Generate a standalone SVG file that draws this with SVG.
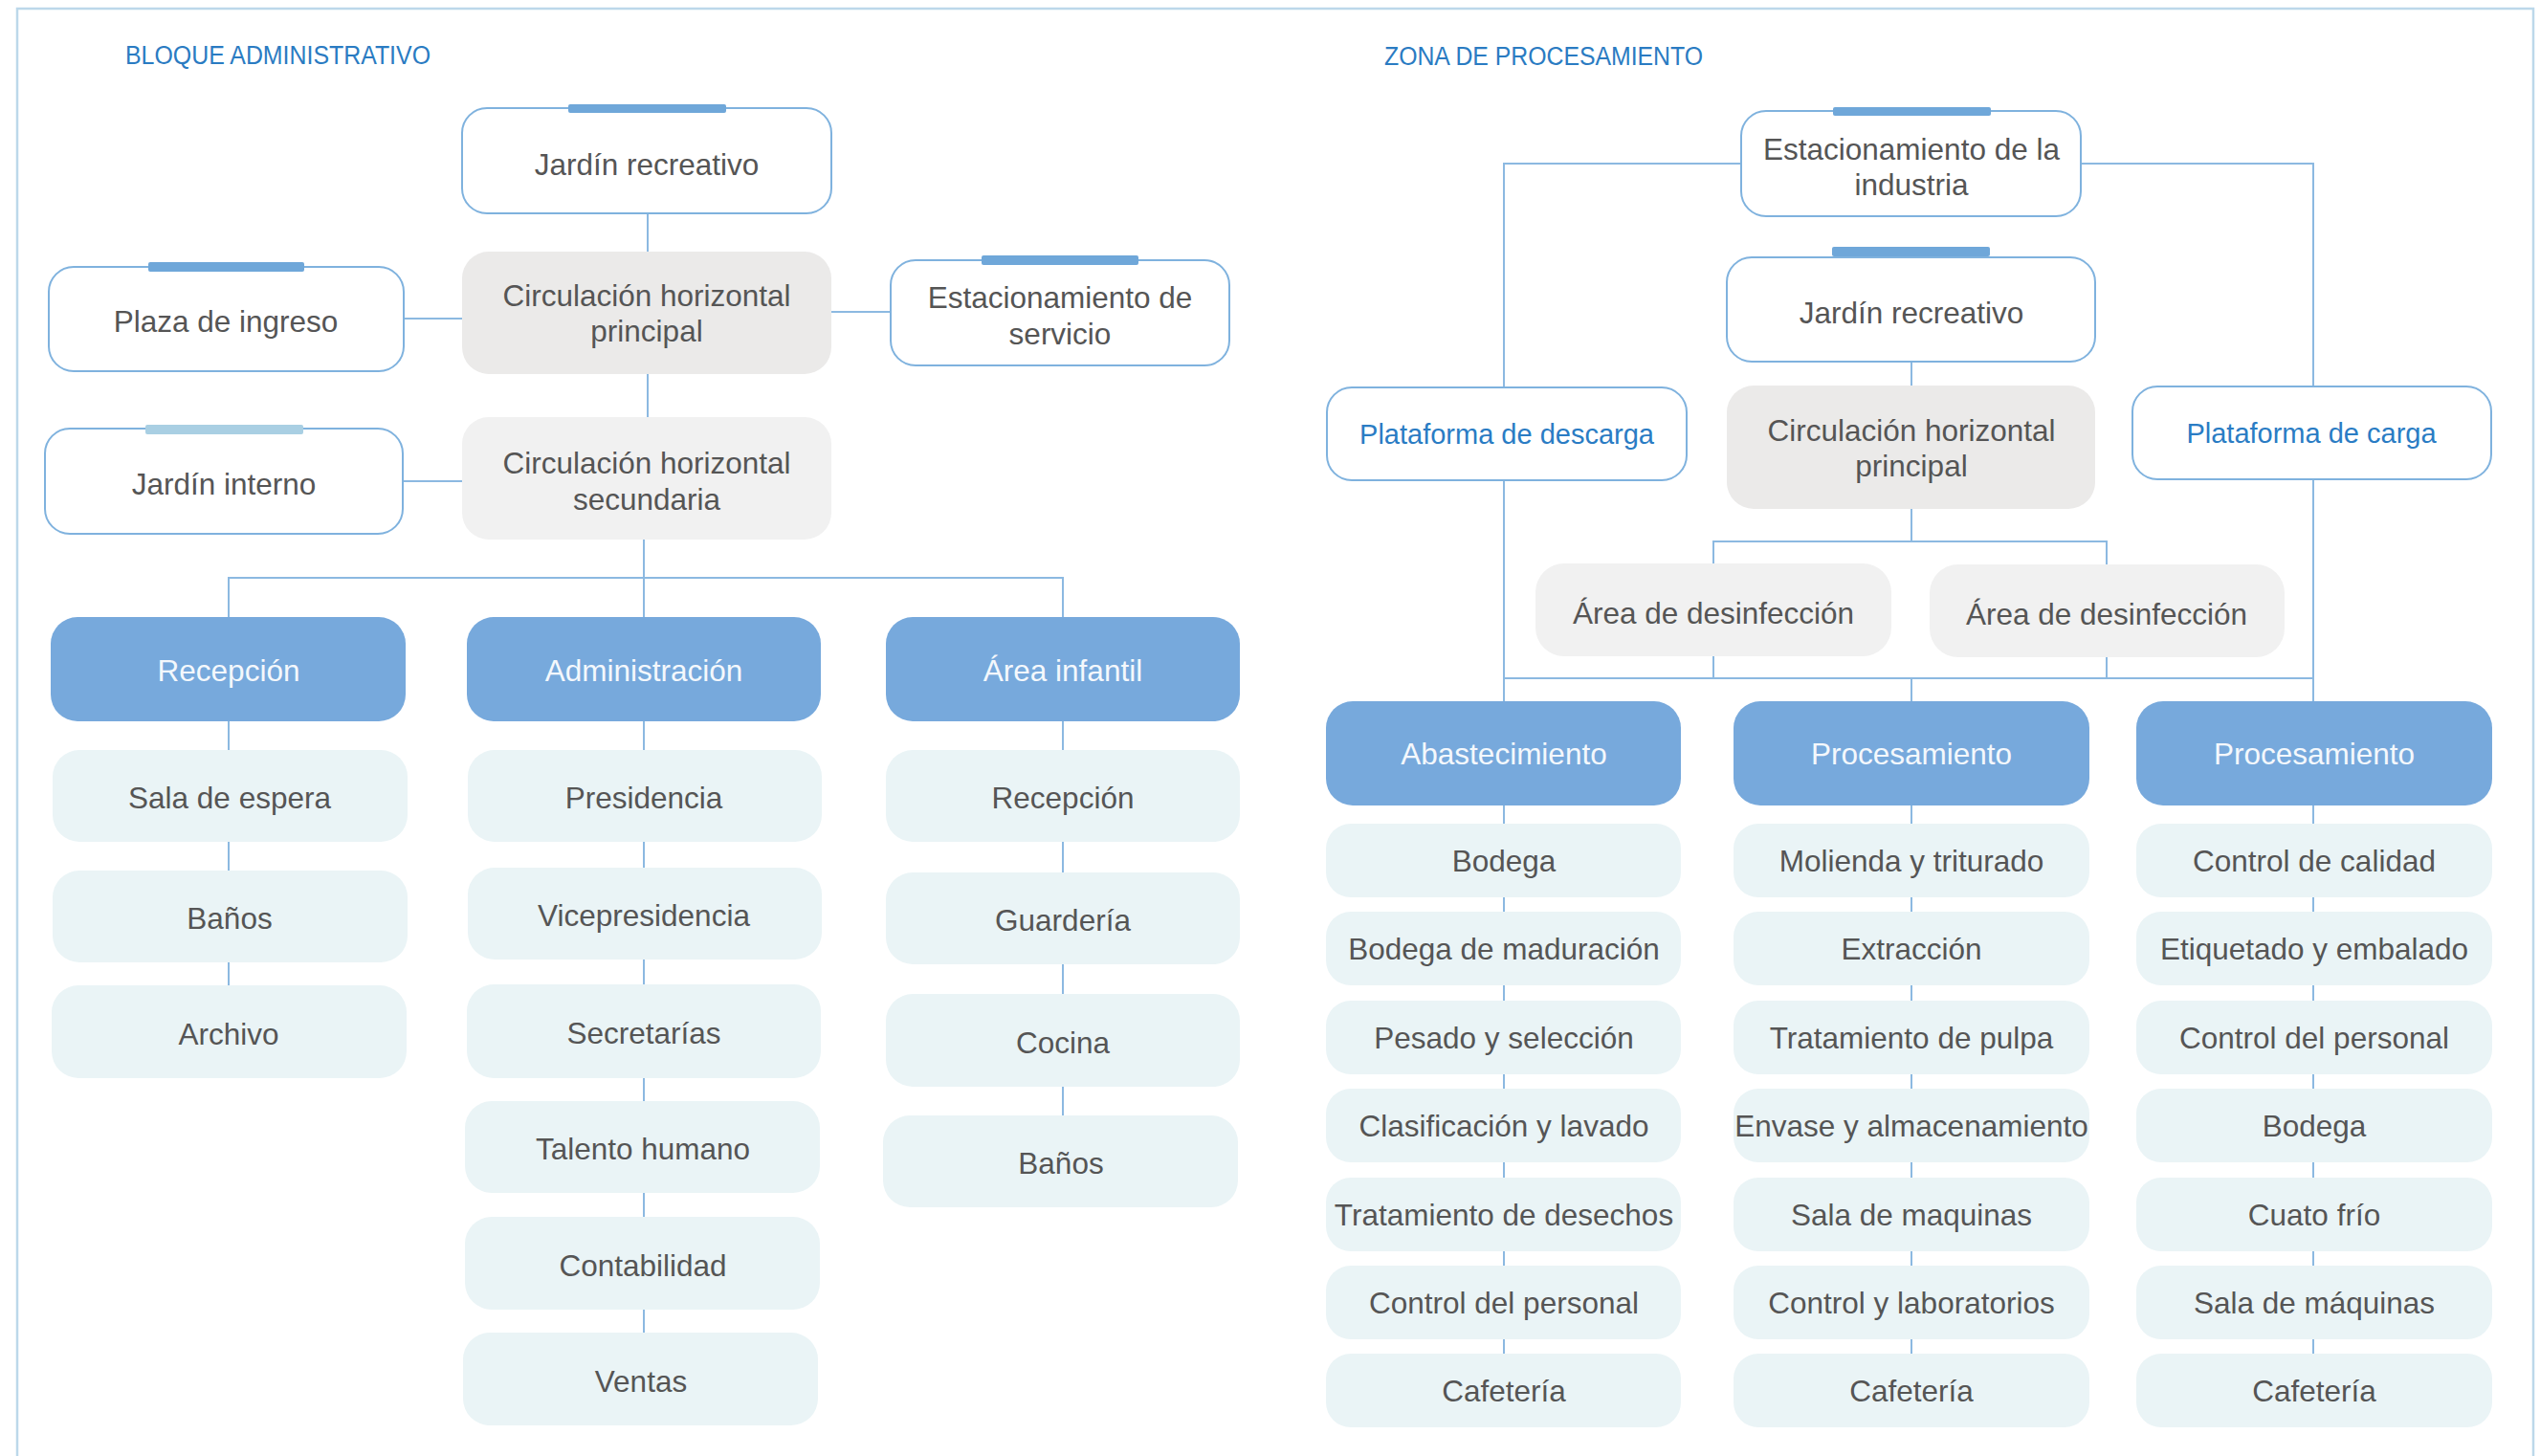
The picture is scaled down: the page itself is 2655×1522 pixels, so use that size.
<svg xmlns="http://www.w3.org/2000/svg" width="2655" height="1522" viewBox="0 0 2655 1522">
<defs>
<style>
text{font-family:"Liberation Sans",Arial,sans-serif;font-size:31.5px;fill:#555;text-anchor:middle}
.title{font-size:27px;fill:#2a7bc2;text-anchor:start}
.blue{fill:#2a7cc4;font-size:29px}
.hdrt{fill:#f4f8fc}
.out{fill:#fff;stroke:#7fb2de;stroke-width:2}
.bar{fill:#6fa7d9}
.barl{fill:#a9cfe3}
.gray{fill:#ebeae9}
.gray2{fill:#f1f1f1}
.hdr{fill:#77a9dc}
.row{fill:#eaf4f6}
.con{fill:none;stroke:#8cb9e1;stroke-width:2}
</style>
</defs>
<rect x="18" y="9" width="2630" height="1540" fill="none" stroke="#bcd8ea" stroke-width="2.5"/>
<text class="title" x="131" y="67" textLength="319" lengthAdjust="spacingAndGlyphs">BLOQUE ADMINISTRATIVO</text>
<text class="title" x="1447" y="68" textLength="333" lengthAdjust="spacingAndGlyphs">ZONA DE PROCESAMIENTO</text>

<g id="connectors" class="con">
<path d="M677 223V263M422 333H483M869 326H931M677 391V436M421 503H483M673 564V645M239 645V604H1111V645"/>
<path d="M239 754V1030M673 754V1393M1111 754V1166"/>
<path d="M1820 171H1572V405M2175 171H2418V404M1998 378V403M1998 532V566M1791 589V566H2202V590M1791 686V709M2202 687V709M1572 502V733M2418 501V733M1572 709H2418M1998 709V733"/>
<path d="M1572 842V1415M1998 842V1415M2418 842V1415"/>
</g>

<g id="jardin-recreativo-a"><rect class="out" x="483" y="113" width="386" height="110" rx="26"/><rect class="bar" x="594" y="109" width="165" height="9" rx="2"/><text x="676" y="183">Jardín recreativo</text></g>
<g id="plaza-ingreso"><rect class="out" x="51" y="279" width="371" height="109" rx="26"/><rect class="bar" x="155" y="274" width="163" height="10" rx="2"/><text x="236" y="347">Plaza de ingreso</text></g>
<g id="circulacion-principal-a"><rect class="gray" x="483" y="263" width="386" height="128" rx="28"/><text x="676" y="320">Circulación horizontal</text><text x="676" y="357">principal</text></g>
<g id="estacionamiento-servicio"><rect class="out" x="931" y="272" width="354" height="110" rx="26"/><rect class="bar" x="1026" y="267" width="164" height="10" rx="2"/><text x="1108" y="322">Estacionamiento de</text><text x="1108" y="360">servicio</text></g>
<g id="jardin-interno"><rect class="out" x="47" y="448" width="374" height="110" rx="26"/><rect class="barl" x="152" y="444" width="165" height="10" rx="2"/><text x="234" y="517">Jardín interno</text></g>
<g id="circulacion-secundaria"><rect class="gray2" x="483" y="436" width="386" height="128" rx="28"/><text x="676" y="495">Circulación horizontal</text><text x="676" y="533">secundaria</text></g>

<g id="recepcion"><rect class="hdr" x="53" y="645" width="371" height="109" rx="28"/><text class="hdrt" x="239" y="712">Recepción</text></g>
<g id="administracion"><rect class="hdr" x="488" y="645" width="370" height="109" rx="28"/><text class="hdrt" x="673" y="712">Administración</text></g>
<g id="area-infantil"><rect class="hdr" x="926" y="645" width="370" height="109" rx="28"/><text class="hdrt" x="1111" y="712">Área infantil</text></g>

<g id="sala-espera"><rect class="row" x="55" y="784" width="371" height="96" rx="28"/><text x="240" y="845">Sala de espera</text></g>
<g id="banos-a"><rect class="row" x="55" y="910" width="371" height="96" rx="28"/><text x="240" y="971">Baños</text></g>
<g id="archivo"><rect class="row" x="54" y="1030" width="371" height="97" rx="28"/><text x="239" y="1092">Archivo</text></g>

<g id="presidencia"><rect class="row" x="489" y="784" width="370" height="96" rx="28"/><text x="673" y="845">Presidencia</text></g>
<g id="vicepresidencia"><rect class="row" x="489" y="907" width="370" height="96" rx="28"/><text x="673" y="968">Vicepresidencia</text></g>
<g id="secretarias"><rect class="row" x="488" y="1029" width="370" height="98" rx="28"/><text x="673" y="1091">Secretarías</text></g>
<g id="talento-humano"><rect class="row" x="486" y="1151" width="371" height="96" rx="28"/><text x="672" y="1212">Talento humano</text></g>
<g id="contabilidad"><rect class="row" x="486" y="1272" width="371" height="97" rx="28"/><text x="672" y="1334">Contabilidad</text></g>
<g id="ventas"><rect class="row" x="484" y="1393" width="371" height="97" rx="28"/><text x="670" y="1455">Ventas</text></g>

<g id="recepcion-infantil"><rect class="row" x="926" y="784" width="370" height="96" rx="28"/><text x="1111" y="845">Recepción</text></g>
<g id="guarderia"><rect class="row" x="926" y="912" width="370" height="96" rx="28"/><text x="1111" y="973">Guardería</text></g>
<g id="cocina"><rect class="row" x="926" y="1039" width="370" height="97" rx="28"/><text x="1111" y="1101">Cocina</text></g>
<g id="banos-b"><rect class="row" x="923" y="1166" width="371" height="96" rx="28"/><text x="1109" y="1227">Baños</text></g>

<g id="estacionamiento-industria"><rect class="out" x="1820" y="116" width="355" height="110" rx="26"/><rect class="bar" x="1916" y="112" width="165" height="9" rx="2"/><text x="1998" y="167">Estacionamiento de la</text><text x="1998" y="204">industria</text></g>
<g id="jardin-recreativo-b"><rect class="out" x="1805" y="269" width="385" height="109" rx="26"/><rect class="bar" x="1915" y="258" width="165" height="10" rx="2"/><text x="1998" y="338">Jardín recreativo</text></g>
<g id="circulacion-principal-b"><rect class="gray" x="1805" y="403" width="385" height="129" rx="28"/><text x="1998" y="461">Circulación horizontal</text><text x="1998" y="498">principal</text></g>
<g id="plataforma-descarga"><rect class="out" x="1387" y="405" width="376" height="97" rx="26"/><text class="blue" x="1575" y="464">Plataforma de descarga</text></g>
<g id="plataforma-carga"><rect class="out" x="2229" y="404" width="375" height="97" rx="26"/><text class="blue" x="2416" y="463">Plataforma de carga</text></g>
<g id="desinfeccion-1"><rect class="gray2" x="1605" y="589" width="372" height="97" rx="30"/><text x="1791" y="652">Área de desinfección</text></g>
<g id="desinfeccion-2"><rect class="gray2" x="2017" y="590" width="371" height="97" rx="30"/><text x="2202" y="653">Área de desinfección</text></g>

<g id="abastecimiento"><rect class="hdr" x="1386" y="733" width="371" height="109" rx="28"/><text class="hdrt" x="1572" y="799">Abastecimiento</text></g>
<g id="procesamiento-1"><rect class="hdr" x="1812" y="733" width="372" height="109" rx="28"/><text class="hdrt" x="1998" y="799">Procesamiento</text></g>
<g id="procesamiento-2"><rect class="hdr" x="2233" y="733" width="372" height="109" rx="28"/><text class="hdrt" x="2419" y="799">Procesamiento</text></g>

<g id="a-bodega"><rect class="row" x="1386" y="861" width="371" height="77" rx="26"/><text x="1572" y="911">Bodega</text></g>
<g id="a-bodega-maduracion"><rect class="row" x="1386" y="953" width="371" height="77" rx="26"/><text x="1572" y="1003">Bodega de maduración</text></g>
<g id="a-pesado"><rect class="row" x="1386" y="1046" width="371" height="77" rx="26"/><text x="1572" y="1096">Pesado y selección</text></g>
<g id="a-clasificacion"><rect class="row" x="1386" y="1138" width="371" height="77" rx="26"/><text x="1572" y="1188">Clasificación y lavado</text></g>
<g id="a-desechos"><rect class="row" x="1386" y="1231" width="371" height="77" rx="26"/><text x="1572" y="1281">Tratamiento de desechos</text></g>
<g id="a-control-personal"><rect class="row" x="1386" y="1323" width="371" height="77" rx="26"/><text x="1572" y="1373">Control del personal</text></g>
<g id="a-cafeteria"><rect class="row" x="1386" y="1415" width="371" height="77" rx="26"/><text x="1572" y="1465">Cafetería</text></g>

<g id="p-molienda"><rect class="row" x="1812" y="861" width="372" height="77" rx="26"/><text x="1998" y="911">Molienda y triturado</text></g>
<g id="p-extraccion"><rect class="row" x="1812" y="953" width="372" height="77" rx="26"/><text x="1998" y="1003">Extracción</text></g>
<g id="p-pulpa"><rect class="row" x="1812" y="1046" width="372" height="77" rx="26"/><text x="1998" y="1096">Tratamiento de pulpa</text></g>
<g id="p-envase"><rect class="row" x="1812" y="1138" width="372" height="77" rx="26"/><text x="1998" y="1188">Envase y almacenamiento</text></g>
<g id="p-sala-maquinas"><rect class="row" x="1812" y="1231" width="372" height="77" rx="26"/><text x="1998" y="1281">Sala de maquinas</text></g>
<g id="p-control-lab"><rect class="row" x="1812" y="1323" width="372" height="77" rx="26"/><text x="1998" y="1373">Control y laboratorios</text></g>
<g id="p-cafeteria"><rect class="row" x="1812" y="1415" width="372" height="77" rx="26"/><text x="1998" y="1465">Cafetería</text></g>

<g id="q-control-calidad"><rect class="row" x="2233" y="861" width="372" height="77" rx="26"/><text x="2419" y="911">Control de calidad</text></g>
<g id="q-etiquetado"><rect class="row" x="2233" y="953" width="372" height="77" rx="26"/><text x="2419" y="1003">Etiquetado y embalado</text></g>
<g id="q-control-personal"><rect class="row" x="2233" y="1046" width="372" height="77" rx="26"/><text x="2419" y="1096">Control del personal</text></g>
<g id="q-bodega"><rect class="row" x="2233" y="1138" width="372" height="77" rx="26"/><text x="2419" y="1188">Bodega</text></g>
<g id="q-cuarto-frio"><rect class="row" x="2233" y="1231" width="372" height="77" rx="26"/><text x="2419" y="1281">Cuato frío</text></g>
<g id="q-sala-maquinas"><rect class="row" x="2233" y="1323" width="372" height="77" rx="26"/><text x="2419" y="1373">Sala de máquinas</text></g>
<g id="q-cafeteria"><rect class="row" x="2233" y="1415" width="372" height="77" rx="26"/><text x="2419" y="1465">Cafetería</text></g>
</svg>
